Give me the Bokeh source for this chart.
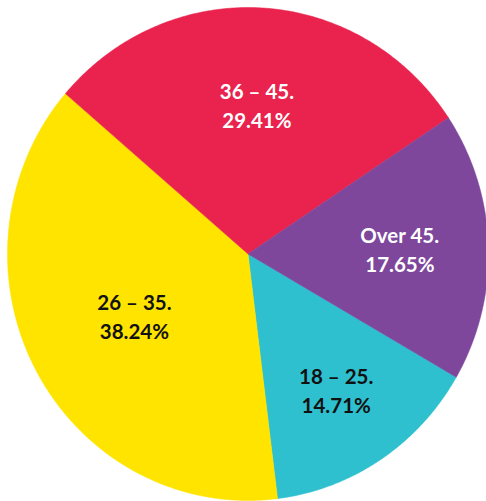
import math
from bokeh.plotting import figure
from bokeh.models import ColumnDataSource, Range1d
from bokeh.core.properties import value
from bokeh.embed import file_html
from bokeh.resources import INLINE

# ---- data ----
categories = ["18 – 25", "26 – 35", "36 – 45", "Over 45"]
counts = [5, 13, 10, 6]
colors = ["#2EC0CE", "#FFE400", "#E9234D", "#7E479C"]
text_colors = ["#111111", "#111111", "#FFFFFF", "#FFFFFF"]

# ---- layout (styling) ----
W, H = 486, 501
cx, cy = 247.5, 247.5
rx, ry = 240.5, 246.5                   # pie is slightly squeezed horizontally
start_deg = -30.0                       # start of first slice, slices go clockwise
label_r = [0.664, 0.536, 0.603, 0.632]  # label distance as fraction of radius

total = sum(counts)
pcts = [c / total * 100 for c in counts]
xs, ys, lx, ly, l1, l2 = [], [], [], [], [], []
acc = 0.0
for i, c in enumerate(counts):
    a0 = start_deg - acc / total * 360
    a1 = start_deg - (acc + c) / total * 360
    acc += c
    n = max(int(abs(a0 - a1) * 2), 2)
    angs = [math.radians(a0 + (a1 - a0) * k / n) for k in range(n + 1)]
    xs.append([cx] + [cx + rx * math.cos(t) for t in angs])
    ys.append([cy] + [cy + ry * math.sin(t) for t in angs])
    mid = math.radians((a0 + a1) / 2)
    lx.append(cx + label_r[i] * rx * math.cos(mid))
    ly.append(cy + label_r[i] * ry * math.sin(mid))
    l1.append(categories[i] + ".")
    l2.append(f"{pcts[i]:.2f}%")

src = ColumnDataSource(dict(xs=xs, ys=ys, color=colors, tcolor=text_colors,
                            x=lx, y=ly, l1=l1, l2=l2))

p = figure(width=W, height=H, output_backend="svg", toolbar_location=None,
           x_range=Range1d(0, W), y_range=Range1d(0, H), min_border=0)
p.axis.visible = False
p.grid.visible = False
p.outline_line_color = None
p.background_fill_color = "white"

p.patches(xs="xs", ys="ys", fill_color="color", line_color="color", line_width=0.5, source=src)

font = value("Lato")
p.text(x="x", y="y", text="l1", text_color="tcolor", text_font=font, text_font_size="20.5px",
       text_font_style="bold", text_align="center", text_baseline="middle", y_offset=-14.5, source=src)
p.text(x="x", y="y", text="l2", text_color="tcolor", text_font=font, text_font_size="20.5px",
       text_font_style="bold", text_align="center", text_baseline="middle", y_offset=14.5, source=src)

open("out.html", "w").write(file_html(p, INLINE))
